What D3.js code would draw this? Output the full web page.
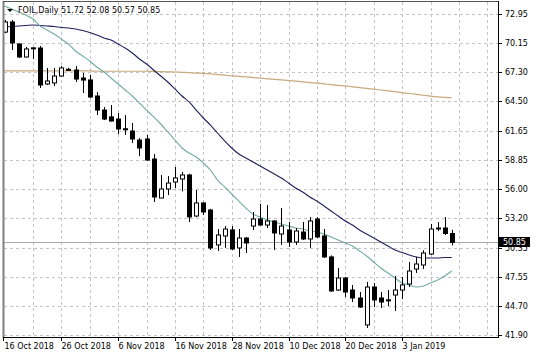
<!DOCTYPE html>
<html><head><meta charset="utf-8">
<script src="https://cdn.jsdelivr.net/npm/d3@7/dist/d3.min.js"></script>
<style>
body{margin:0;background:#fff}
svg{display:block}
text{font-family:"DejaVu Sans",Verdana,sans-serif;font-size:8px;fill:#000}
</style>
</head><body>
<svg id="c" width="536" height="358"></svg>
<script>
const symbolTitle = "FOIL,Daily";
const lastQuote = ["51.72", "52.08", "50.57", "50.85"];
const tickLabels = ["16 Oct 2018","26 Oct 2018","6 Nov 2018","16 Nov 2018","28 Nov 2018","10 Dec 2018","20 Dec 2018","3 Jan 2019"];
const tickBars = [0, 8, 16, 24, 32, 40, 48, 56];
const yTicks = [41.90, 44.70, 47.55, 50.35, 53.20, 56.00, 58.85, 61.65, 64.50, 67.30, 70.15, 72.95];
const lastPrice = 50.85;

const open  = [71.20,72.18,70.05,68.79,69.65,69.66,66.18,66.28,66.95,67.60,67.53,66.76,66.57,65.02,63.66,63.00,62.79,61.85,61.63,60.76,60.86,58.92,55.15,56.02,56.70,56.99,57.38,53.41,54.67,53.99,50.61,51.48,52.06,50.32,51.28,52.44,53.12,52.54,52.93,51.67,52.06,50.90,51.86,51.19,53.12,51.48,49.45,46.25,47.41,46.25,45.48,42.87,46.54,45.48,45.30,45.77,46.25,46.83,48.28,48.67,49.73,52.20,52.25,51.72];
const high  = [72.37,72.37,70.10,69.76,69.72,69.86,67.73,67.73,67.92,67.75,67.92,67.24,67.05,65.40,63.95,64.15,63.37,63.18,62.41,60.96,61.25,59.41,57.38,57.28,58.15,57.67,57.50,55.93,54.77,54.10,52.15,52.44,52.44,52.15,51.38,53.80,54.57,54.47,53.00,54.18,52.83,52.25,52.83,53.31,53.30,52.15,49.60,48.38,47.50,46.74,46.06,47.03,46.93,46.06,46.25,47.61,47.51,48.96,49.45,50.10,52.64,52.83,53.31,52.08];
const low   = [71.10,69.47,68.69,68.75,68.60,65.79,66.08,65.99,66.86,67.50,66.37,65.31,64.82,63.18,62.69,62.55,61.34,61.25,60.47,59.20,58.73,54.77,55.15,55.44,56.12,55.80,52.83,53.30,53.50,50.12,50.03,50.32,50.12,49.45,49.83,52.06,52.44,52.25,50.12,50.61,50.42,50.61,51.09,50.32,51.28,49.35,46.06,46.16,45.58,45.09,44.51,42.58,44.61,44.51,44.70,44.22,45.38,46.54,47.90,48.28,49.64,51.96,51.57,50.57];
const close = [72.18,70.15,68.79,69.57,69.68,66.08,66.47,66.95,67.73,67.55,66.66,66.56,64.92,63.66,62.79,62.60,61.83,61.80,60.86,59.99,58.83,55.25,56.02,56.60,57.09,57.38,53.32,54.67,53.80,50.32,51.57,52.15,50.22,51.28,50.80,53.12,52.54,52.93,51.77,52.44,50.90,51.96,51.19,52.93,51.38,49.45,46.16,47.41,46.06,45.48,44.61,46.54,45.29,45.09,45.25,46.25,46.74,48.09,48.77,49.83,52.15,52.25,51.72,50.85];

const maFast = [73.72,73.43,73.14,72.85,72.47,71.79,71.40,71.02,70.53,70.05,69.37,68.89,68.40,67.82,67.34,66.76,66.18,65.60,65.02,64.34,63.66,62.99,62.31,61.54,60.76,59.99,59.50,59.12,58.54,57.86,56.89,56.22,55.54,54.86,54.18,53.60,53.31,53.02,52.83,52.64,52.44,52.25,52.15,51.96,51.86,51.67,51.38,51.09,50.80,50.51,50.03,49.54,48.96,48.38,47.90,47.41,46.93,46.74,46.54,46.64,46.93,47.22,47.61,48.09];
const maSlow = [71.69,71.74,71.79,71.84,71.89,71.84,71.79,71.74,71.64,71.60,71.50,71.35,71.16,70.92,70.63,70.43,70.05,69.66,69.18,68.60,68.11,67.53,66.95,66.37,65.70,65.02,64.44,63.66,62.89,62.21,61.44,60.67,59.99,59.41,59.02,58.64,58.25,57.86,57.47,57.09,56.60,56.12,55.73,55.25,54.86,54.38,53.89,53.41,52.93,52.54,52.06,51.67,51.28,50.90,50.51,50.12,49.88,49.64,49.45,49.35,49.35,49.35,49.40,49.40];
const maLong = [67.44,67.44,67.44,67.44,67.44,67.44,67.44,67.44,67.44,67.44,67.44,67.44,67.44,67.41,67.41,67.41,67.41,67.41,67.41,67.41,67.41,67.39,67.37,67.35,67.34,67.31,67.28,67.24,67.20,67.15,67.09,67.03,66.97,66.91,66.86,66.80,66.74,66.68,66.62,66.57,66.51,66.45,66.39,66.32,66.26,66.19,66.12,66.05,65.99,65.91,65.83,65.75,65.68,65.60,65.52,65.44,65.35,65.26,65.17,65.09,65.01,64.94,64.89,64.85];

const svg = d3.select("#c");
const L = 3, R = 498, T = 1, B = 337;
const bars = d3.range(open.length);
const x = d3.scaleLinear().domain([0, bars.length - 1]).range([4.5, 451.8]);
const y = d3.scaleLinear().domain([41.90, 72.95]).range([335, 14]);

svg.append("rect").attr("width",536).attr("height",358).attr("fill","#fff");
svg.append("defs").append("clipPath").attr("id","pc")
  .append("rect").attr("x",L+1).attr("y",T+1).attr("width",R-L-1).attr("height",B-T-1);

// grid
const grid = svg.append("g").attr("stroke","#c3c3c3").attr("stroke-dasharray","3,3").attr("stroke-width",1);
const vGrid = d3.range(4, 72, 4).map(i => Math.round(x(i)) + 0.5).filter(v => v < R);
grid.selectAll("line.v").data(vGrid).join("line").attr("x1",d=>d).attr("x2",d=>d).attr("y1",T+1).attr("y2",B);
grid.selectAll("line.h").data(yTicks).join("line")
  .attr("x1",L+1).attr("x2",R).attr("y1",d=>Math.round(y(d))+0.5).attr("y2",d=>Math.round(y(d))+0.5);

const plot = svg.append("g").attr("clip-path","url(#pc)");

// last price line
plot.append("line").attr("x1",L).attr("x2",R)
  .attr("y1",Math.round(y(lastPrice))+0.5).attr("y2",Math.round(y(lastPrice))+0.5)
  .attr("stroke","#a8a8a8").attr("stroke-width",1);

// moving averages
const line = arr => d3.line().x((d,i)=>x(i)).y(d=>y(d)).curve(d3.curveMonotoneX)(arr);
plot.append("path").attr("d",line(maLong)).attr("fill","none").attr("stroke","#c8a97e").attr("stroke-width",1.2);
plot.append("path").attr("d",line(maSlow)).attr("fill","none").attr("stroke","#1f1f5e").attr("stroke-width",1.1);
plot.append("path").attr("d",line(maFast)).attr("fill","none").attr("stroke","#72aaa0").attr("stroke-width",1.1);

// candles
const cg = plot.append("g");
bars.forEach(i => {
  const cx = Math.round(x(i)) + 0.5;
  const o = open[i], c = close[i];
  cg.append("line").attr("x1",cx).attr("x2",cx).attr("y1",y(high[i])).attr("y2",y(low[i]))
    .attr("stroke","#000").attr("stroke-width",1);
  const top = y(Math.max(o,c)), bot = y(Math.min(o,c));
  const h = Math.max(1, bot - top);
  cg.append("rect").attr("x",cx-2).attr("y",top).attr("width",4).attr("height",h)
    .attr("fill", c >= o ? "#fff" : "#000").attr("stroke","#000").attr("stroke-width",1);
});

// frame
svg.append("line").attr("x1",L+0.5).attr("x2",L+0.5).attr("y1",T).attr("y2",B+1).attr("stroke","#808080").attr("stroke-width",2);
svg.append("line").attr("x1",L).attr("x2",R).attr("y1",T+0.5).attr("y2",T+0.5).attr("stroke","#555").attr("stroke-width",1);
svg.append("line").attr("x1",L).attr("x2",R+0.5).attr("y1",B+0.5).attr("y2",B+0.5).attr("stroke","#000").attr("stroke-width",1);
svg.append("line").attr("x1",R+0.5).attr("x2",R+0.5).attr("y1",T).attr("y2",B+1).attr("stroke","#000").attr("stroke-width",1);

// y axis
const ya = svg.append("g");
yTicks.forEach(v => {
  const yy = Math.round(y(v)) + 0.5;
  ya.append("line").attr("x1",R).attr("x2",R+4).attr("y1",yy).attr("y2",yy).attr("stroke","#000");
  ya.append("text").attr("x",R+7).attr("y",yy).attr("dy","0.35em").text(v.toFixed(2));
});

// x axis
const xa = svg.append("g");
tickBars.forEach((b,k) => {
  const xx = k === 0 ? L + 0.5 : Math.round(x(b)) + 0.5;
  xa.append("line").attr("x1",xx).attr("x2",xx).attr("y1",B).attr("y2",B+4).attr("stroke","#000");
  xa.append("text").attr("x",xx + (k===0?1:0)).attr("y",349).text(tickLabels[k]);
});

// last price tag
const ly = Math.round(y(lastPrice));
svg.append("rect").attr("x",R+1).attr("y",ly-5).attr("width",31).attr("height",10).attr("fill","#000");
svg.append("text").attr("x",R+5).attr("y",ly).attr("dy","0.35em").style("fill","#fff").text(lastPrice.toFixed(2));

// title
svg.append("path").attr("d","M7,9 L13,9 L10,12 Z").attr("fill","#000");
svg.append("text").attr("x",18).attr("y",13).text(symbolTitle + "  " + lastQuote.join(" "));
</script>
</body></html>
